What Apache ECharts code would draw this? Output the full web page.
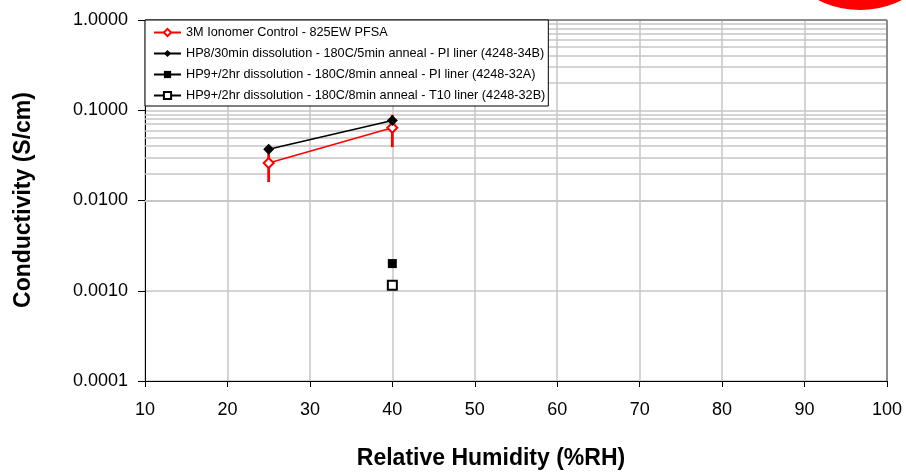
<!DOCTYPE html>
<html>
<head>
<meta charset="utf-8">
<script src="https://cdn.jsdelivr.net/npm/echarts@6/dist/echarts.min.js"></script>
<style>
  html, body { margin: 0; padding: 0; background: #fff; }
  #chart { width: 906px; height: 472px; }
</style>
</head>
<body>
<div id="chart"></div>
<script>
// Relative humidity (%RH) at which each membrane was measured
const humidity = [25, 40];

// 3M ionomer control, conductivity (S/cm) and its ± error
const controlValues = [0.026, 0.064];
const controlError = [0.010, 0.025];

// HP8 / 30 min dissolution, conductivity (S/cm)
const hp8Values = [0.037, 0.077];

// HP9+ / 2 hr dissolution samples, measured at 40 %RH only
const hp9Humidity = [40];
const hp9PiValues = [0.0020];
const hp9T10Values = [0.00115];

const seriesNames = [
  '3M Ionomer Control - 825EW PFSA',
  'HP8/30min dissolution - 180C/5min anneal - PI liner (4248-34B)',
  'HP9+/2hr dissolution - 180C/8min anneal - PI liner (4248-32A)',
  'HP9+/2hr dissolution - 180C/8min anneal - T10 liner (4248-32B)'
];

// Tick values
const xTicks = [10, 20, 30, 40, 50, 60, 70, 80, 90, 100];
const yDecades = [0.0001, 0.001, 0.01, 0.1, 1];

// Log-scale minor grid values (2..9 within each decade)
const minorGrid = [];
for (let d = 0; d < yDecades.length - 1; d++) {
  for (let m = 2; m <= 9; m++) minorGrid.push(+(yDecades[d] * m).toPrecision(3));
}

const pair = (xs, ys) => xs.map((x, i) => [x, ys[i]]);
const errorData = humidity.map((x, i) => [x, controlValues[i] - controlError[i], controlValues[i] + controlError[i]]);

const font = "'Liberation Sans', Arial, sans-serif";
const gridColor = '#c6c6c6';

const chart = echarts.init(document.getElementById('chart'), null, { renderer: 'canvas' });

chart.setOption({
  animation: false,
  backgroundColor: '#fff',
  grid: { left: 145, right: 19, top: 20, bottom: 91, containLabel: false },
  xAxis: {
    type: 'value',
    min: xTicks[0],
    max: xTicks[xTicks.length - 1],
    interval: 10,
    axisLine: { show: true, lineStyle: { color: '#000', width: 1 } },
    axisTick: { show: true, length: 6, lineStyle: { color: '#000' } },
    axisLabel: { fontSize: 18, color: '#000', fontFamily: font, margin: 20 },
    splitLine: { show: true, lineStyle: { color: gridColor, width: 1.5 } }
  },
  yAxis: {
    type: 'log',
    logBase: 10,
    min: yDecades[0],
    max: yDecades[yDecades.length - 1],
    interval: 1,
    axisLine: { show: true, lineStyle: { color: '#000', width: 1 } },
    axisTick: { show: true, length: 7, lineStyle: { color: '#000' } },
    axisLabel: {
      fontSize: 18, color: '#000', fontFamily: font, margin: 17,
      formatter: v => Number(v).toFixed(4)
    },
    splitLine: { show: true, lineStyle: { color: gridColor, width: 1.5 } }
  },
  legend: {
    orient: 'vertical',
    left: 145,
    top: 20,
    padding: [6, 3, 4, 8],
    itemGap: 8,
    itemWidth: 27,
    itemHeight: 9,
    backgroundColor: '#fff',
    borderColor: '#000',
    borderWidth: 1,
    borderRadius: 0,
    textStyle: { fontSize: 12.7, color: '#000', fontFamily: font },
    data: seriesNames
  },
  graphic: [
    {
      type: 'text',
      x: 491, y: 459,
      style: {
        text: 'Relative Humidity (%RH)',
        x: 0, y: 0,
        textAlign: 'center', textVerticalAlign: 'middle',
        font: 'bold 23px ' + font, fill: '#000'
      }
    },
    {
      type: 'text',
      x: 24, y: 200,
      rotation: Math.PI / 2,
      style: {
        text: 'Conductivity (S/cm)',
        x: 0, y: 0,
        textAlign: 'center', textVerticalAlign: 'middle',
        font: 'bold 23px ' + font, fill: '#000'
      }
    },
    {
      type: 'circle',
      z: 100,
      shape: { cx: 860, cy: -83, r: 93 },
      style: { fill: '#ff0000' }
    }
  ],
  series: [
    {
      // grid lines for the log decades' minor steps and the plot frame
      type: 'line',
      data: [],
      silent: true,
      markLine: {
        silent: true,
        z: 1,
        symbol: 'none',
        label: { show: false },
        animation: false,
        lineStyle: { color: gridColor, type: 'solid', width: 1.5 },
        data: minorGrid.map(v => ({ yAxis: v })).concat([
          { yAxis: yDecades[yDecades.length - 1], lineStyle: { color: '#8c8c8c', width: 2, type: 'solid' } },
          { xAxis: xTicks[xTicks.length - 1], lineStyle: { color: '#8c8c8c', width: 2, type: 'solid' } }
        ])
      }
    },
    {
      // ± error bars on the control series
      type: 'custom',
      z: 2,
      silent: true,
      data: errorData,
      encode: { x: 0, y: [1, 2] },
      renderItem: (params, api) => {
        const x = api.value(0);
        const lo = api.coord([x, api.value(1)]);
        const hi = api.coord([x, api.value(2)]);
        return {
          type: 'line',
          shape: { x1: lo[0], y1: lo[1], x2: hi[0], y2: hi[1] },
          style: { stroke: '#ff0000', lineWidth: 2.8 }
        };
      }
    },
    {
      name: seriesNames[0],
      type: 'line',
      z: 3,
      data: pair(humidity, controlValues),
      symbol: 'emptyDiamond',
      symbolSize: 10,
      color: '#ff0000',
      itemStyle: { color: '#ff0000', borderWidth: 1.5 },
      lineStyle: { color: '#ff0000', width: 1.5 }
    },
    {
      name: seriesNames[1],
      type: 'line',
      z: 4,
      data: pair(humidity, hp8Values),
      symbol: 'diamond',
      symbolSize: 11,
      color: '#000',
      itemStyle: { color: '#000' },
      lineStyle: { color: '#000', width: 1.5 }
    },
    {
      name: seriesNames[2],
      type: 'line',
      z: 4,
      data: pair(hp9Humidity, hp9PiValues),
      symbol: 'rect',
      symbolSize: 9,
      color: '#000',
      itemStyle: { color: '#000' },
      lineStyle: { color: '#000', width: 1.5 }
    },
    {
      name: seriesNames[3],
      type: 'line',
      z: 4,
      data: pair(hp9Humidity, hp9T10Values),
      symbol: 'emptyRect',
      symbolSize: 9,
      color: '#000',
      itemStyle: { color: '#000', borderWidth: 1.5 },
      lineStyle: { color: '#000', width: 1.5 }
    }
  ]
});
</script>
</body>
</html>
